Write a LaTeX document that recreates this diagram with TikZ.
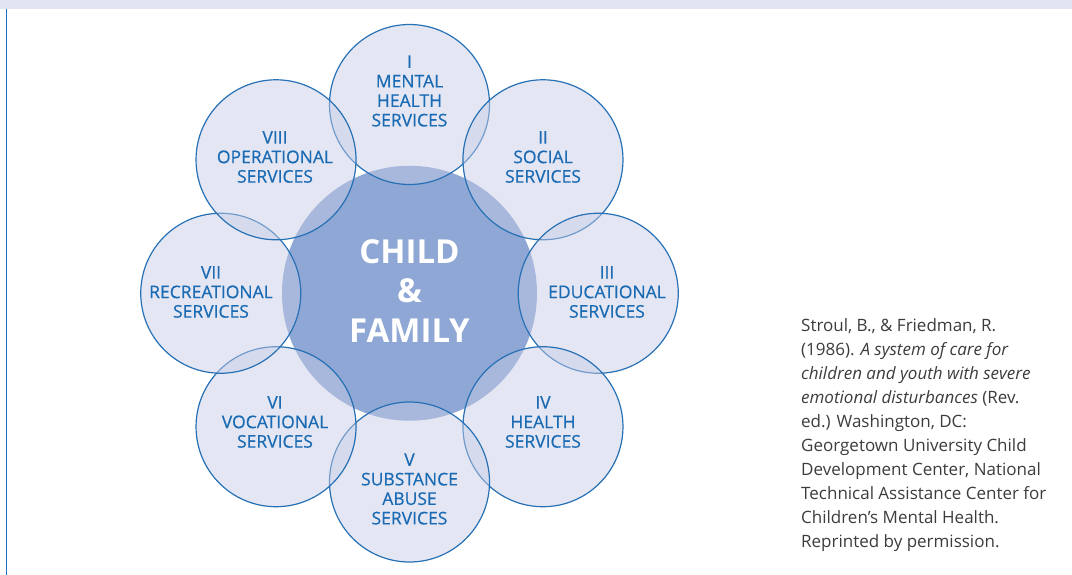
\documentclass[tikz,border=0pt]{standalone}
\usepackage{fontspec}
\setmainfont{Open Sans}
\newfontfamily\svcfont{Open Sans}[FakeBold=0.5]
\definecolor{bandcol}{HTML}{E1E5F2}
\definecolor{rulecol}{HTML}{1B6EC2}
\definecolor{ringstroke}{HTML}{2670B5}
\definecolor{ringfill}{RGB}{198,204,230}
\definecolor{hubfill}{HTML}{8FA7D4}
\definecolor{labelblue}{HTML}{1A6BB3}
\definecolor{citegray}{HTML}{3C3C3C}
\tikzset{
  service/.style={circle, draw=ringstroke, line width=1.2pt, fill=ringfill, fill opacity=0.47, draw opacity=1, minimum size=160pt, inner sep=0pt},
  hubstyle/.style={circle, fill=hubfill, minimum size=255pt, inner sep=0pt},
  svclabel/.style={align=center, inner sep=0pt, text=labelblue, font=\svcfont\fontsize{17.5}{19.5}\selectfont},
  hublabel/.style={align=center, inner sep=0pt, text=white, font=\fontsize{33}{39.5}\selectfont\bfseries},
  citation/.style={align=left, inner sep=0pt, text=citegray, font=\fontsize{17}{24}\selectfont, anchor=north west}
}
\begin{document}
\begin{tikzpicture}[x=1pt,y=-1pt]
\useasboundingbox (0,0) rectangle (1072,575);
\fill[bandcol] (0,0) rectangle (1072,8.7);
\coordinate (ruletop) at (6.7,8.7);
\coordinate (rulebot) at (6.7,575);
\draw[rulecol, line width=1.3pt] (ruletop) -- (rulebot);

\node[hubstyle] (hub) at (409.5,293.25) {};

\node[service] (s1) at (409.5,104.5) {};
\node[service] (s2) at (542.97,159.78) {};
\node[service] (s3) at (598.25,293.25) {};
\node[service] (s4) at (542.97,426.72) {};
\node[service] (s5) at (409.5,482) {};
\node[service] (s6) at (276.03,426.72) {};
\node[service] (s7) at (220.75,293.25) {};
\node[service] (s8) at (276.03,159.78) {};

\node[svclabel] (l1) at (409.5,91) {I\\MENTAL\\HEALTH\\SERVICES};
\node[svclabel] (l2) at (543,157) {II\\SOCIAL\\SERVICES};
\node[svclabel] (l3) at (607,292) {III\\EDUCATIONAL\\SERVICES};
\node[svclabel] (l4) at (543,422) {IV\\HEALTH\\SERVICES};
\node[svclabel] (l5) at (409.5,489) {V\\SUBSTANCE\\ABUSE\\SERVICES};
\node[svclabel] (l6) at (275,422) {VI\\VOCATIONAL\\SERVICES};
\node[svclabel] (l7) at (211,292) {VII\\RECREATIONAL\\SERVICES};
\node[svclabel] (l8) at (275,157) {VIII\\OPERATIONAL\\SERVICES};

\node[hublabel] (hubtext) at (409.5,291) {CHILD\\\&\\FAMILY};

\node[citation] (cite) at (801,318) {Stroul, B., \& Friedman, R.\\(1986). \textit{A system of care for}\\\textit{children and youth with severe}\\\textit{emotional disturbances} (Rev.\\ed.) Washington, DC:\\Georgetown University Child\\Development Center, National\\Technical Assistance Center for\\Children’s Mental Health.\\Reprinted by permission.};
\end{tikzpicture}
\end{document}
